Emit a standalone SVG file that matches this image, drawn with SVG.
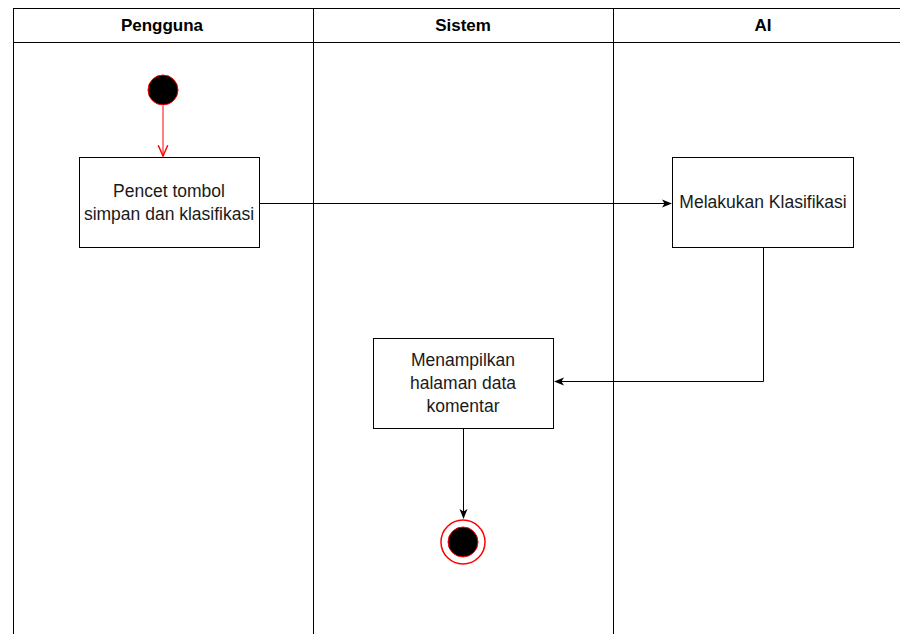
<svg xmlns="http://www.w3.org/2000/svg" width="900" height="634" viewBox="0 0 900 634">
<style>
.lane{fill:none;stroke:#000;stroke-width:1}
.hdr{font-family:"Liberation Sans",Arial,sans-serif;font-size:17px;font-weight:bold;fill:#000;text-anchor:middle}
.box{fill:#fff;stroke:#000;stroke-width:1}
.lbl{font-family:"Liberation Sans",Arial,sans-serif;font-size:17.5px;fill:#1a1a1a;text-anchor:middle}
.edge{fill:none;stroke:#000;stroke-width:1}
</style>
<defs>
<marker id="ab" viewBox="0 0 10 10" refX="9" refY="5" markerWidth="10" markerHeight="10" markerUnits="userSpaceOnUse" orient="auto"><path d="M0,1 L10,5 L0,9 L2.5,5 Z" fill="#000"/></marker>
<marker id="ar" viewBox="0 0 10 10" refX="9" refY="5" markerWidth="12" markerHeight="12" markerUnits="userSpaceOnUse" orient="auto"><path d="M0,1 L9,5 L0,9" fill="none" stroke="#ff0000" stroke-width="1.2"/></marker>
</defs>
<g id="pool">
<rect class="lane" x="13.5" y="8.5" width="900" height="640"/>
<line class="lane" x1="13.5" y1="42.5" x2="900" y2="42.5"/>
<line class="lane" x1="313.5" y1="8.5" x2="313.5" y2="634"/>
<line class="lane" x1="613.5" y1="8.5" x2="613.5" y2="634"/>
<text class="hdr" x="162" y="31">Pengguna</text>
<text class="hdr" x="463" y="31">Sistem</text>
<text class="hdr" x="763" y="31">AI</text>
</g>
<g id="start"><circle cx="163" cy="90" r="15" fill="#000" stroke="#ff0000" stroke-width="1"/></g>
<g id="n1"><rect class="box" x="79.5" y="157.5" width="180" height="90"/>
<text class="lbl" x="169" y="197">Pencet tombol</text><text class="lbl" x="169" y="220">simpan dan klasifikasi</text></g>
<g id="n2"><rect class="box" x="672.5" y="157.5" width="181" height="90"/>
<text class="lbl" x="763" y="208">Melakukan Klasifikasi</text></g>
<g id="n3"><rect class="box" x="373.5" y="338.5" width="180" height="90"/>
<text class="lbl" x="463" y="366">Menampilkan</text><text class="lbl" x="463" y="389">halaman data</text><text class="lbl" x="463" y="412">komentar</text></g>
<g id="end"><circle cx="463" cy="542" r="22" fill="#fff" stroke="#ff0000" stroke-width="1.5"/><circle cx="463" cy="542" r="15" fill="#000" stroke="#ff0000" stroke-width="1"/></g>
<g id="edges">
<line x1="163" y1="106" x2="163" y2="156" stroke="#ff0000" stroke-width="1" marker-end="url(#ar)"/>
<line class="edge" x1="259.5" y1="203.5" x2="671" y2="203.5" marker-end="url(#ab)"/>
<polyline class="edge" points="763.5,247.5 763.5,381.5 555,381.5" marker-end="url(#ab)"/>
<line class="edge" x1="463.5" y1="428.5" x2="463.5" y2="518" marker-end="url(#ab)"/>
</g>
</svg>
